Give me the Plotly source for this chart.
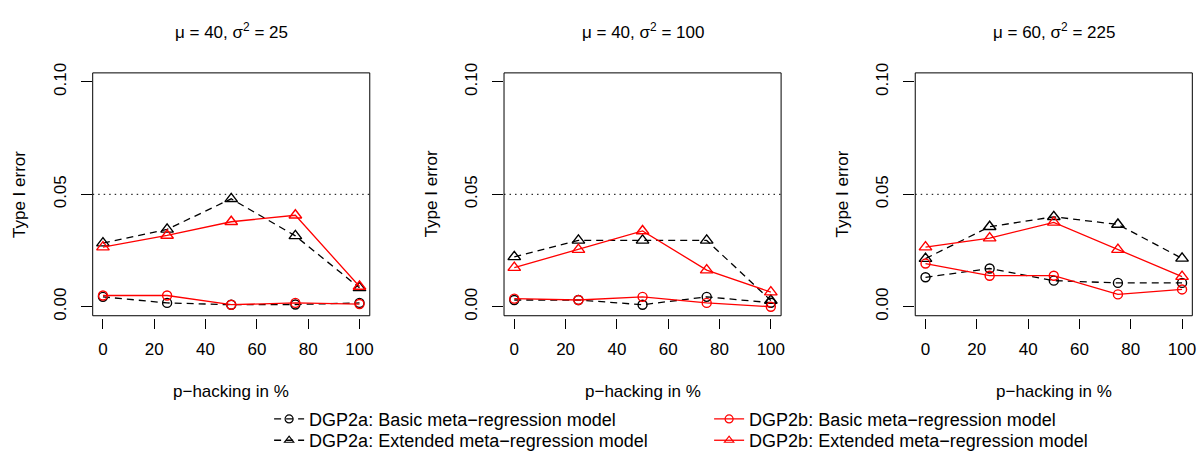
import plotly.graph_objects as go

# ---------------- data ----------------
PCT = [0, 25, 50, 75, 100]
X_TICKS = [0, 20, 40, 60, 80, 100]
Y_TICKS = [0.00, 0.05, 0.10]
Y_TICK_LABELS = ["0.00", "0.05", "0.10"]
ALPHA = 0.05

TITLES = ["μ = 40, σ<sup>2</sup> = 25", "μ = 40, σ<sup>2</sup> = 100", "μ = 60, σ<sup>2</sup> = 225"]
X_TITLE = "p−hacking in %"
Y_TITLE = "Type I error"

SERIES_NAMES = [
    "DGP2a: Basic meta−regression model",
    "DGP2b: Basic meta−regression model",
    "DGP2a: Extended meta−regression model",
    "DGP2b: Extended meta−regression model",
]

# panel 1: mu = 40, sigma^2 = 25
P1_A_BASIC = [0.0044, 0.0017, 0.0009, 0.0010, 0.0017]
P1_A_EXT = [0.0283, 0.0344, 0.0480, 0.0315, 0.0084]
P1_B_BASIC = [0.0050, 0.0050, 0.0009, 0.0017, 0.0012]
P1_B_EXT = [0.0265, 0.0317, 0.0378, 0.0407, 0.0090]

# panel 2: mu = 40, sigma^2 = 100
P2_A_BASIC = [0.0030, 0.0030, 0.0009, 0.0044, 0.0018]
P2_A_EXT = [0.0222, 0.0295, 0.0295, 0.0295, 0.0028]
P2_B_BASIC = [0.0036, 0.0030, 0.0044, 0.0017, 0.0000]
P2_B_EXT = [0.0174, 0.0254, 0.0337, 0.0163, 0.0065]

# panel 3: mu = 60, sigma^2 = 225
P3_A_BASIC = [0.0131, 0.0170, 0.0116, 0.0106, 0.0106]
P3_A_EXT = [0.0214, 0.0356, 0.0400, 0.0366, 0.0215]
P3_B_BASIC = [0.0192, 0.0138, 0.0138, 0.0055, 0.0077]
P3_B_EXT = [0.0265, 0.0305, 0.0375, 0.0254, 0.0134]

PANELS = [
    (P1_A_BASIC, P1_A_EXT, P1_B_BASIC, P1_B_EXT),
    (P2_A_BASIC, P2_A_EXT, P2_B_BASIC, P2_B_EXT),
    (P3_A_BASIC, P3_A_EXT, P3_B_BASIC, P3_B_EXT),
]

# ---------------- layout constants ----------------
W, H = 1203, 462
BOX_LEFT = [93, 505.7, 918.3]
BOX_W = 278
BOX_TOP, BOX_BOTTOM = 65, 316
FONT = "Liberation Sans, Arial, sans-serif"
FS = 17
BLACK = "#000000"
RED = "#FF0000"
DASH = "7px,5px"
LW = 1.3

fig = go.Figure()

styles = {
    "a_basic": dict(color=BLACK, dash=DASH, symbol="circle-open", size=9),
    "a_ext": dict(color=BLACK, dash=DASH, symbol="triangle-up-open", size=11),
    "b_basic": dict(color=RED, dash="solid", symbol="circle-open", size=9),
    "b_ext": dict(color=RED, dash="solid", symbol="triangle-up-open", size=11),
}

for i, (a_basic, a_ext, b_basic, b_ext) in enumerate(PANELS):
    xa = "x" if i == 0 else f"x{i+1}"
    ya = "y" if i == 0 else f"y{i+1}"
    for key, vals in (("a_basic", a_basic), ("a_ext", a_ext), ("b_basic", b_basic), ("b_ext", b_ext)):
        st = styles[key]
        fig.add_trace(go.Scatter(
            x=PCT, y=vals, mode="lines+markers", xaxis=xa, yaxis=ya, showlegend=False,
            line=dict(color=st["color"], dash=st["dash"], width=LW),
            marker=dict(symbol=st["symbol"], size=st["size"], color=st["color"],
                        line=dict(color=st["color"], width=1.4)),
            hoverinfo="x+y",
        ))

# legend-only entries: row 1 -> legend, row 2 -> legend2
for name, key, lg in zip(SERIES_NAMES, ["a_basic", "b_basic", "a_ext", "b_ext"],
                         ["legend", "legend", "legend2", "legend2"]):
    st = styles[key]
    fig.add_trace(go.Scatter(
        x=[None], y=[None], mode="lines+markers", name=name, xaxis="x", yaxis="y",
        legend=lg,
        line=dict(color=st["color"], dash=st["dash"], width=LW),
        marker=dict(symbol=st["symbol"], size=8, color=st["color"],
                    line=dict(color=st["color"], width=1.2)),
    ))

legend_common = dict(
    orientation="h", x=270 / W, xanchor="left", yanchor="middle",
    entrywidth=395, entrywidthmode="pixels",
    font=dict(family=FONT, size=18, color=BLACK),
    bgcolor="rgba(0,0,0,0)", itemclick=False, itemdoubleclick=False,
)

layout = dict(
    width=W, height=H,
    margin=dict(l=0, r=0, t=0, b=0),
    paper_bgcolor="white", plot_bgcolor="white",
    font=dict(family=FONT, size=FS, color=BLACK),
    showlegend=True,
    legend=dict(y=1 - 423 / H, **legend_common),
    legend2=dict(y=1 - 445 / H, **legend_common),
    shapes=[], annotations=[],
)

for i in range(3):
    sx = "" if i == 0 else str(i + 1)
    x0 = BOX_LEFT[i] / W
    x1 = (BOX_LEFT[i] + BOX_W) / W
    y0 = 1 - BOX_BOTTOM / H
    y1 = 1 - BOX_TOP / H
    layout[f"xaxis{sx}"] = dict(
        domain=[x0, x1], range=[-4, 104], anchor="free", position=1 - 318 / H,
        tickmode="array", tickvals=X_TICKS, ticktext=[str(v) for v in X_TICKS],
        ticks="outside", ticklen=10, tickwidth=1, tickcolor=BLACK,
        showline=False, showgrid=False, zeroline=False,
        tickfont=dict(family=FONT, size=FS, color=BLACK), ticklabelstandoff=6,
        fixedrange=True,
    )
    layout[f"yaxis{sx}"] = dict(
        domain=[y0, y1], range=[-0.004, 0.104], anchor=f"x{sx}",
        tickmode="array", tickvals=Y_TICKS, ticktext=Y_TICK_LABELS, tickangle=-90,
        ticks="outside", ticklen=11, tickwidth=1, tickcolor=BLACK,
        showline=False, showgrid=False, zeroline=False,
        tickfont=dict(family=FONT, size=FS, color=BLACK), ticklabelstandoff=8,
        fixedrange=True,
    )
    layout["shapes"].append(dict(
        type="rect", xref=f"x{sx} domain", yref=f"y{sx} domain", x0=0, x1=1, y0=0, y1=1,
        line=dict(color=BLACK, width=1), fillcolor="rgba(0,0,0,0)", layer="above",
    ))
    layout["shapes"].append(dict(
        type="line", xref=f"x{sx} domain", yref=f"y{sx}", x0=0, x1=1, y0=ALPHA, y1=ALPHA,
        line=dict(color=BLACK, width=1, dash="1.5px,4px"), layer="below",
    ))
    layout["annotations"].append(dict(
        text=TITLES[i], xref=f"x{sx} domain", x=0.5, yref="paper", y=1 - 22 / H,
        showarrow=False, xanchor="center", yanchor="middle",
        font=dict(family=FONT, size=FS, color=BLACK),
    ))
    layout["annotations"].append(dict(
        text=X_TITLE, xref=f"x{sx} domain", x=0.5, yref="paper", y=1 - 394 / H,
        showarrow=False, xanchor="center", yanchor="middle",
        font=dict(family=FONT, size=FS, color=BLACK),
    ))
    layout["annotations"].append(dict(
        text=Y_TITLE, xref=f"x{sx} domain", x=0, xshift=-73,
        yref=f"y{sx} domain", y=0.5, textangle=-90,
        showarrow=False, xanchor="center", yanchor="middle",
        font=dict(family=FONT, size=FS, color=BLACK),
    ))

fig.update_layout(**layout)
fig.write_html("out.html")
